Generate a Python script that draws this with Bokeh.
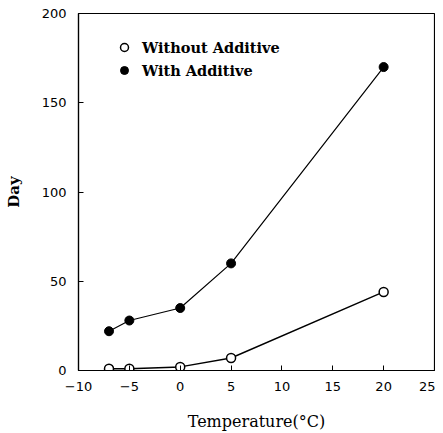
from bokeh.plotting import figure
from bokeh.models import Legend, LegendItem, FixedTicker
from bokeh.embed import file_html
from bokeh.resources import INLINE

temps = [-7, -5, 0, 5, 20]
without_additive = [1, 1, 2, 7, 44]
with_additive = [22, 28, 35, 60, 170]
x_ticks = [-10, -5, 0, 5, 10, 15, 20, 25]
y_ticks = [0, 50, 100, 150, 200]

p = figure(width=435, height=425, output_backend="svg", toolbar_location=None,
           x_range=(-10, 25), y_range=(0, 200),
           min_border_left=78, min_border_top=13, min_border_right=1, min_border_bottom=55)
p.frame_width = 356
p.frame_height = 357
p.background_fill_color = "white"
p.border_fill_color = "white"
p.outline_line_color = "black"
p.outline_line_width = 1.2
p.grid.grid_line_color = None

tick_font = "DejaVu Sans"
for ax in (p.xaxis[0], p.yaxis[0]):
    ax.axis_line_color = "black"
    ax.axis_line_width = 1.2
    ax.major_tick_in = 5
    ax.major_tick_out = 0
    ax.minor_tick_line_color = None
    ax.major_label_text_font = tick_font
    ax.major_label_text_font_size = "13px"
    ax.major_label_text_color = "black"
    ax.axis_label_text_font = "DejaVu Serif"
    ax.axis_label_text_font_style = "bold"
    ax.axis_label_text_color = "black"

p.xaxis.ticker = FixedTicker(ticks=x_ticks)
p.yaxis.ticker = FixedTicker(ticks=y_ticks)
p.xaxis.major_label_standoff = 11
p.yaxis.major_label_standoff = 12
p.xaxis.axis_label = "Temperature(°C)"
p.xaxis.axis_label_text_font_size = "16px"
p.xaxis.axis_label_text_font_style = "normal"
p.xaxis.axis_label_standoff = 18
p.yaxis.axis_label = "Day"
p.yaxis.axis_label_text_font_size = "15px"
p.yaxis.axis_label_standoff = 16

p.line(temps, with_additive, line_color="black", line_width=1.2)
r_with = p.scatter(temps, with_additive, size=9, fill_color="black", line_color="black")
p.line(temps, without_additive, line_color="black", line_width=1.4)
r_without = p.scatter(temps, without_additive, size=9, fill_color="white", line_color="black", line_width=1.5)

legend = Legend(items=[LegendItem(label="Without Additive", renderers=[r_without]),
                       LegendItem(label="With Additive", renderers=[r_with])],
                location=(36, 290), orientation="vertical")
legend.margin = 0
legend.padding = 0
legend.spacing = 3
legend.glyph_width = 20
legend.glyph_height = 20
legend.label_height = 20
legend.label_standoff = 8
legend.border_line_color = None
legend.background_fill_alpha = 0
legend.label_text_font = "DejaVu Serif"
legend.label_text_font_style = "bold"
legend.label_text_font_size = "14.5px"
legend.label_text_color = "black"
p.add_layout(legend, "center")

open("out.html", "w").write(file_html(p, INLINE))
